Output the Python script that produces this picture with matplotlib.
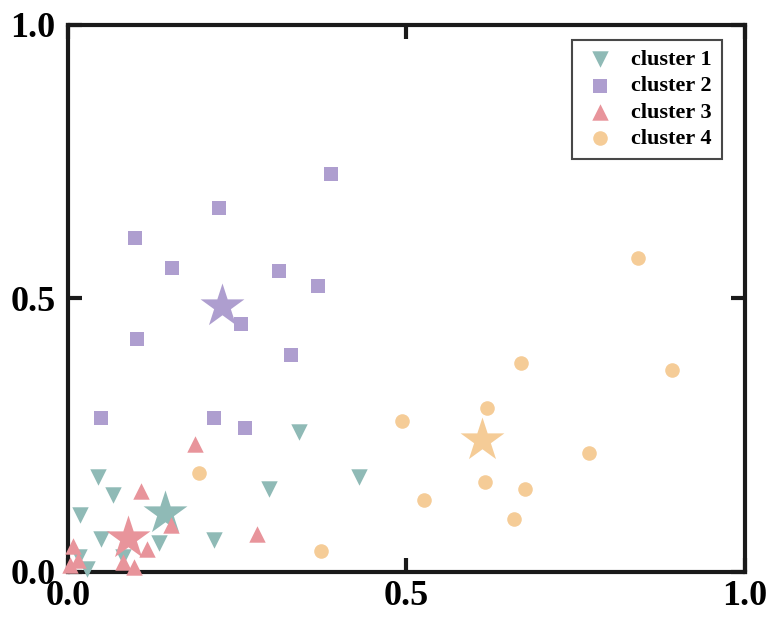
import matplotlib
matplotlib.use('Agg')
import matplotlib.pyplot as plt

plt.rcParams['font.family'] = ['Liberation Serif', 'DejaVu Serif']
plt.rcParams['font.weight'] = 'bold'

# datos
c1_x = [0.341, 0.045, 0.066, 0.297, 0.018, 0.049, 0.134, 0.216, 0.081, 0.016, 0.028, 0.430]
c1_y = [0.256, 0.173, 0.141, 0.151, 0.104, 0.060, 0.053, 0.058, 0.027, 0.027, 0.005, 0.174]
c1_star = (0.143, 0.108)

c2_x = [0.049, 0.099, 0.102, 0.154, 0.216, 0.223, 0.256, 0.261, 0.312, 0.329, 0.369, 0.388]
c2_y = [0.282, 0.611, 0.426, 0.556, 0.282, 0.665, 0.453, 0.263, 0.550, 0.397, 0.523, 0.728]
c2_star = (0.227, 0.486)

c3_x = [0.188, 0.108, 0.152, 0.117, 0.279, 0.007, 0.015, 0.003, 0.081, 0.097]
c3_y = [0.234, 0.148, 0.086, 0.042, 0.069, 0.048, 0.022, 0.012, 0.018, 0.009]
c3_star = (0.089, 0.062)

c4_x = [0.193, 0.374, 0.493, 0.526, 0.619, 0.616, 0.669, 0.675, 0.659, 0.770, 0.842, 0.892]
c4_y = [0.181, 0.038, 0.276, 0.132, 0.300, 0.165, 0.382, 0.152, 0.097, 0.218, 0.574, 0.369]
c4_star = (0.611, 0.241)

labels = ['cluster 1', 'cluster 2', 'cluster 3', 'cluster 4']
colors = ['#8fbab6', '#ae9ecf', '#e8949b', '#f5cc97']
markers = ['v', 's', '^', 'o']
sizes = [140, 110, 140, 110]

xs = [c1_x, c2_x, c3_x, c4_x]
ys = [c1_y, c2_y, c3_y, c4_y]
stars = [c1_star, c2_star, c3_star, c4_star]

fig = plt.figure(figsize=(7.68, 6.17), dpi=100)
ax = fig.add_axes([0.0885, 0.073, 0.8815, 0.8865])

for i in range(4):
    ax.scatter(xs[i], ys[i], c=colors[i], marker=markers[i], s=sizes[i],
               linewidths=0, label=labels[i], zorder=3, clip_on=False)
    ax.scatter([stars[i][0]], [stars[i][1]], c=colors[i], marker='*', s=1100,
               linewidths=0, zorder=3, clip_on=False)

ax.set_xlim(0, 1)
ax.set_ylim(0, 1)
ax.set_xticks([0, 0.5, 1.0])
ax.set_yticks([0, 0.5, 1.0])
ax.set_xticklabels(['0.0', '0.5', '1.0'])
ax.set_yticklabels(['0.0', '0.5', '1.0'])

for sp in ax.spines.values():
    sp.set_linewidth(3)
    sp.set_color('#1a1a1a')

ax.tick_params(direction='in', length=10, width=3, top=True, right=True,
               labelsize=26, color='#1a1a1a')
ax.tick_params(axis='y', pad=9)
ax.tick_params(axis='x', pad=6)

leg = ax.legend(loc='upper right', bbox_to_anchor=(0.966, 0.973), fontsize=16,
                frameon=True, fancybox=False, edgecolor='#1a1a1a',
                borderaxespad=0, handletextpad=0.6, borderpad=0.45,
                labelspacing=0.25, handlelength=1.6)
leg.get_frame().set_linewidth(1.5)

plt.savefig('out.png', dpi=100)
